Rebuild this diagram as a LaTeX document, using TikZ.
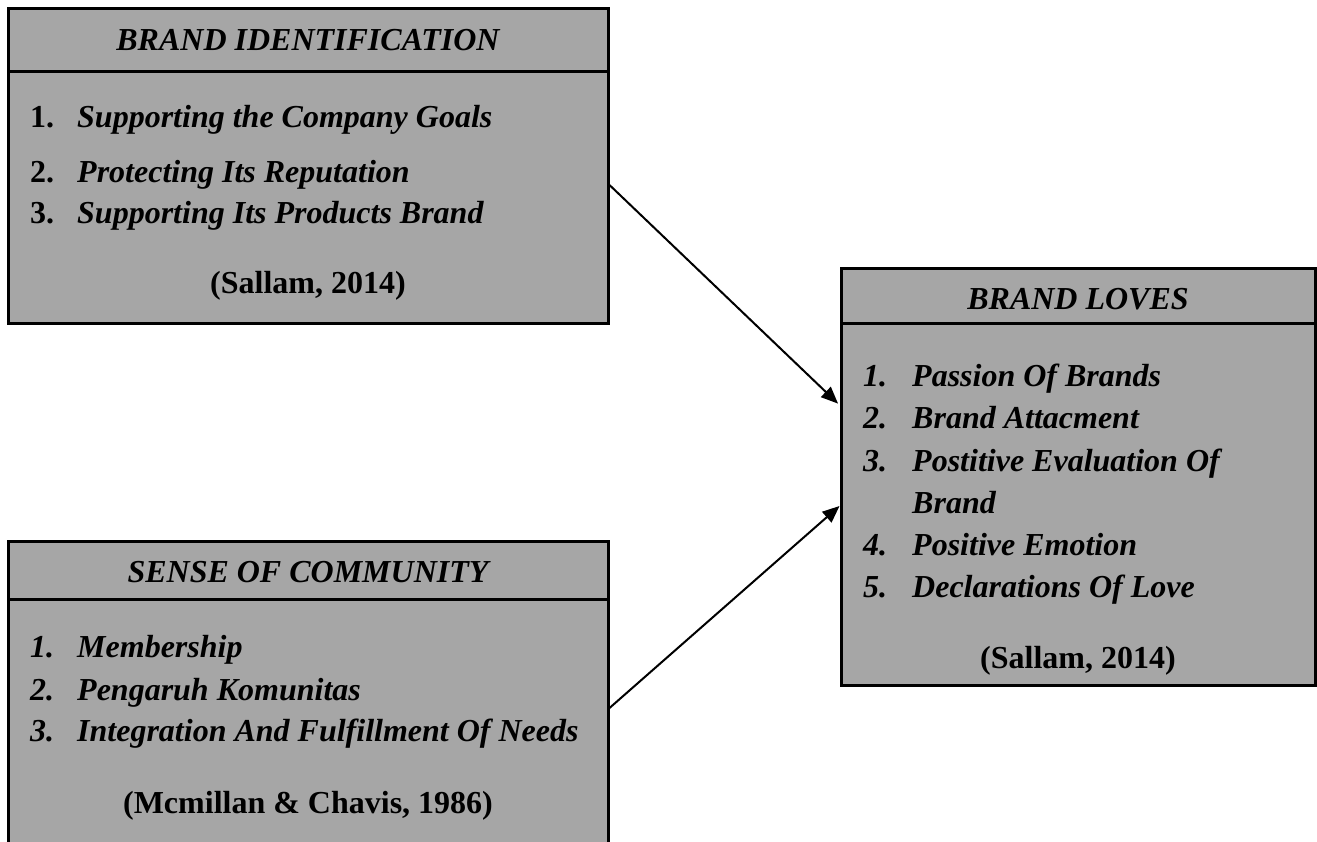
\documentclass[tikz,border=0pt]{standalone}
\usepackage{fontspec}
\setmainfont{Liberation Serif}
\usetikzlibrary{arrows.meta}
\definecolor{boxgray}{RGB}{166,166,166}
\begin{document}
\begin{tikzpicture}[x=1pt,y=-1pt,
  panel/.style={draw=black, fill=boxgray, line width=3pt, rectangle, inner sep=0pt},
  txt/.style={anchor=base west, inner sep=0pt, font=\fontsize{32}{38}\selectfont\bfseries\itshape},
  num/.style={anchor=base west, inner sep=0pt, font=\fontsize{32}{38}\selectfont\bfseries},
  ttl/.style={anchor=base, inner sep=0pt, font=\fontsize{32}{38}\selectfont\bfseries\itshape},
  cite/.style={anchor=base, inner sep=0pt, font=\fontsize{32}{38}\selectfont\bfseries},
  link/.style={line width=2pt, -{Triangle[length=17pt,width=14pt]}}]
\useasboundingbox (0,0) rectangle (1317,841);
\clip (0,0) rectangle (1317,841);

% Brand Identification
\node[panel, minimum width=600pt, minimum height=62.5pt] (bih) at (308,39.75) {};
\node[panel, minimum width=600pt, minimum height=252pt] (bib) at (308,197) {};
\node[ttl] (bit) at (308,50) {BRAND IDENTIFICATION};
\node[num] (bin1) at (30,127) {1.};
\node[txt] (bii1) at (77,127) {Supporting the Company Goals};
\node[num] (bin2) at (30,182) {2.};
\node[txt] (bii2) at (77,182) {Protecting Its Reputation};
\node[num] (bin3) at (30,223) {3.};
\node[txt] (bii3) at (77,223) {Supporting Its Products Brand};
\node[cite] (bic) at (308,293) {(Sallam, 2014)};

% Sense of Community
\node[panel, minimum width=600pt, minimum height=58pt] (sch) at (308,570) {};
\node[panel, minimum width=600pt, minimum height=261pt] (scb) at (308,729.5) {};
\node[ttl] (sct) at (308,582) {SENSE OF COMMUNITY};
\node[txt] (scn1) at (30,657) {1.};
\node[txt] (sci1) at (77,657) {Membership};
\node[txt] (scn2) at (30,700) {2.};
\node[txt] (sci2) at (77,700) {Pengaruh Komunitas};
\node[txt] (scn3) at (30,741) {3.};
\node[txt] (sci3) at (77,741) {Integration And Fulfillment Of Needs};
\node[cite] (scc) at (308,813) {(Mcmillan \& Chavis, 1986)};

% Brand Loves
\node[panel, minimum width=474pt, minimum height=55pt] (blh) at (1078,295.5) {};
\node[panel, minimum width=474pt, minimum height=362pt] (blb) at (1078,504) {};
\node[ttl] (blt) at (1078,309) {BRAND LOVES};
\node[txt] (bln1) at (863,386) {1.};
\node[txt] (bli1) at (912,386) {Passion Of Brands};
\node[txt] (bln2) at (863,428) {2.};
\node[txt] (bli2) at (912,428) {Brand Attacment};
\node[txt] (bln3) at (863,471) {3.};
\node[txt] (bli3) at (912,471) {Postitive Evaluation Of};
\node[txt] (bli3b) at (912,513) {Brand};
\node[txt] (bln4) at (863,555) {4.};
\node[txt] (bli4) at (912,555) {Positive Emotion};
\node[txt] (bln5) at (863,597) {5.};
\node[txt] (bli5) at (912,597) {Declarations Of Love};
\node[cite] (blc) at (1078,668) {(Sallam, 2014)};

% connectors
\draw[link, shorten >=2pt] ([yshift=12pt]bib.east) -- ([yshift=99pt]blb.west);
\draw[link] ([yshift=21.5pt]scb.east) -- ([yshift=-2pt]blb.west);
\end{tikzpicture}
\end{document}
